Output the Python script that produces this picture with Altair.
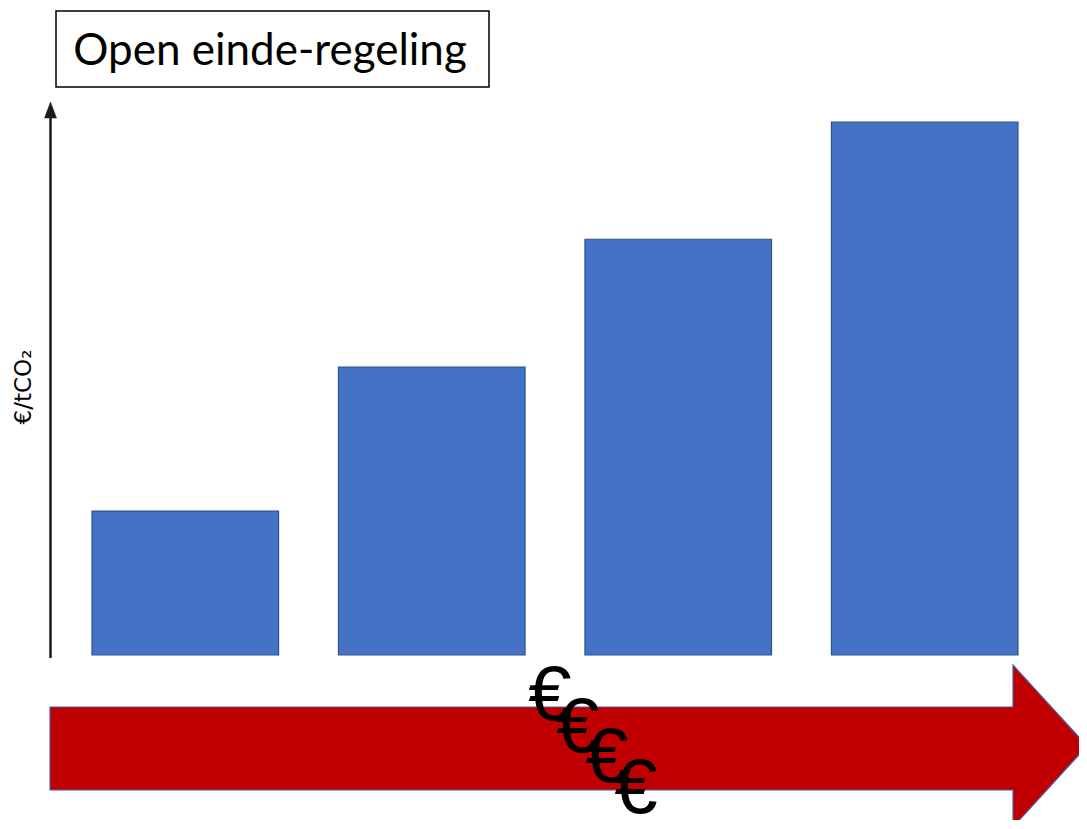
import altair as alt
import pandas as pd

# ---- data ----
categories = ["1", "2", "3", "4"]
values = [27, 54, 78, 100]          # relative cost per tCO2 (tallest = 100)
title_text = ["Open einde-regeling"]
y_label = ["€/tCO₂"]
euro_signs = ["€", "€", "€", "€"]

W, H = 1071, 812
one = pd.DataFrame({"k": [0]})

df = pd.DataFrame({"cat": categories, "value": values})

bars = alt.Chart(df).mark_bar(
    color="#4472C4", stroke="#2F528F", strokeWidth=1.2
).encode(
    x=alt.X("cat:N", sort=None, axis=None,
            scale=alt.Scale(range=[84, 1010], paddingInner=0.243, paddingOuter=0)),
    y=alt.Y("value:Q", axis=None,
            scale=alt.Scale(domain=[0, 100], range=[647, 114])),
)

# y axis line with arrow head
axis_line = alt.Chart(one).mark_rule(color="#1a1a1a", strokeWidth=2.5).encode(
    x=alt.value(42.5), y=alt.value(106), y2=alt.value(650)
)
axis_head = alt.Chart(one).mark_point(
    shape="M0,-1L0.75,1L-0.75,1Z", size=256, filled=True,
    fill="#1a1a1a", stroke="#1a1a1a", strokeWidth=0.5, opacity=1
).encode(x=alt.value(42.5), y=alt.value(102))

# red arrow (single symbol path)
arrow_path = ("M-1,-0.0752L0.8573,-0.0752L0.8573,-0.1562L1,0L0.8573,0.1562"
              "L0.8573,0.0849L-1,0.0849Z")
red_arrow = alt.Chart(one).mark_point(
    shape=arrow_path, size=1037 ** 2, filled=True,
    fill="#C00000", stroke="#41619C", strokeWidth=1.2, opacity=1
).encode(x=alt.value(560.5), y=alt.value(738))

# euro signs
euro_pos = [(542, 712), (570, 744), (599, 774), (628, 805)]
euro_layers = []
for i, (ex, ey) in enumerate(euro_pos):
    d = pd.DataFrame({"t": [euro_signs[i]]})
    euro_layers.append(
        alt.Chart(d).mark_text(
            font="Liberation Sans", fontSize=78, color="#000000",
            align="center", baseline="alphabetic"
        ).encode(text="t:N", x=alt.value(ex), y=alt.value(ey))
    )

# title box
title_box = alt.Chart(one).mark_rect(
    fill="#ffffff", stroke="#000000", strokeWidth=1.5
).encode(x=alt.value(48), x2=alt.value(481), y=alt.value(3), y2=alt.value(79))

title = alt.Chart(pd.DataFrame({"t": title_text})).mark_text(
    font="Lato", fontSize=44, color="#000000", align="center", baseline="alphabetic"
).encode(text="t:N", x=alt.value(262), y=alt.value(57))

ylab = alt.Chart(pd.DataFrame({"t": y_label})).mark_text(
    font="DejaVu Sans", fontSize=23, color="#000000", align="center",
    baseline="alphabetic", angle=270
).encode(text="t:N", x=alt.value(23), y=alt.value(379))

chart = alt.layer(
    bars, axis_line, axis_head, red_arrow, *euro_layers, title_box, title, ylab
).properties(
    width=W, height=H, autosize=alt.AutoSizeParams(type="none"), padding=0,
    background="#ffffff"
).configure_view(strokeWidth=0)

chart.save("out.html", embed_options={"renderer": "svg", "actions": False})
